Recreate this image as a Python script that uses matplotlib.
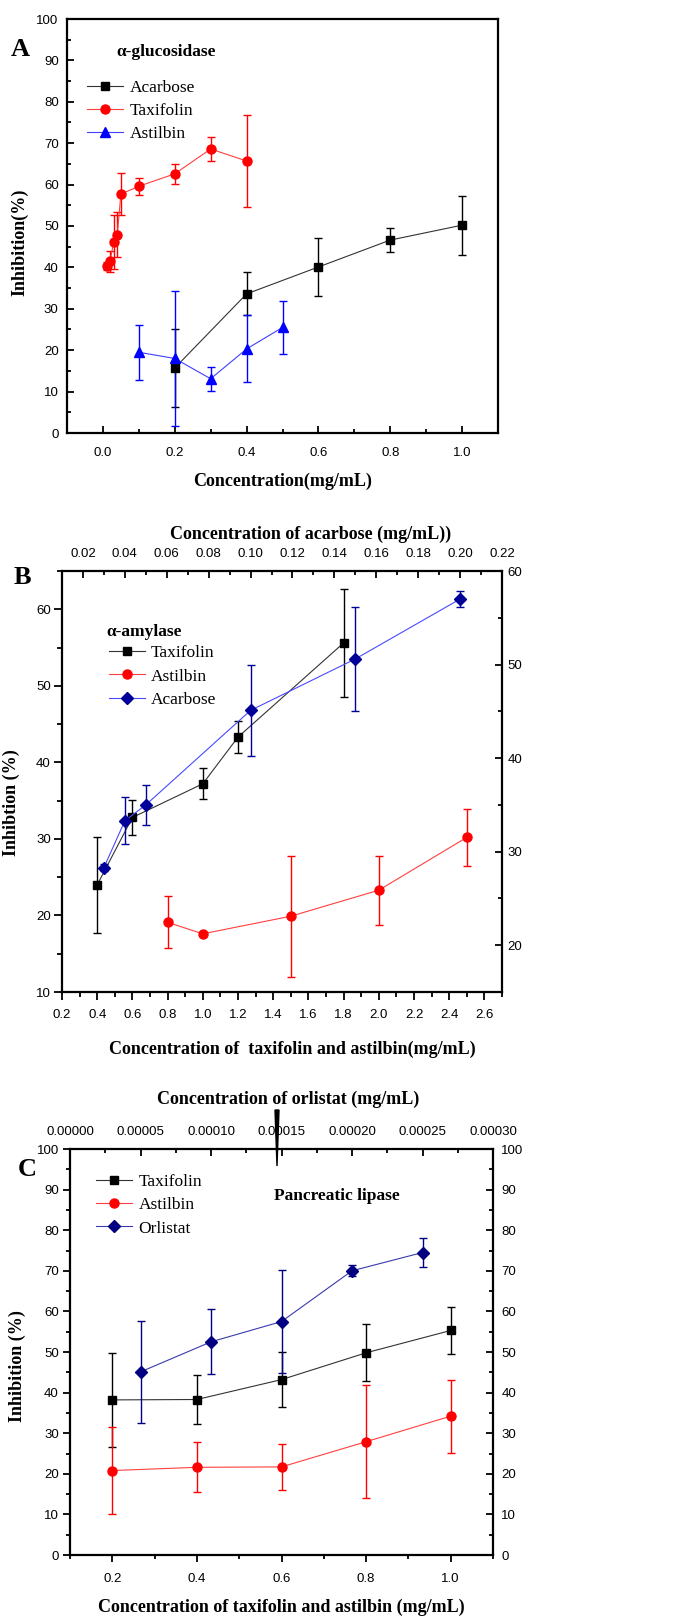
import numpy as np
import matplotlib
matplotlib.use('Agg')
import matplotlib.pyplot as plt
from matplotlib.ticker import MultipleLocator, FormatStrFormatter
from matplotlib.patches import Polygon

plt.rcParams['font.family'] = ['Liberation Sans Narrow', 'Liberation Sans', 'DejaVu Sans']
SERIF = ['Liberation Serif', 'DejaVu Serif']

#%% data
# A: alpha-glucosidase
a_acarbose_x = [0.2, 0.4, 0.6, 0.8, 1.0]
a_acarbose_y = [15.7, 33.6, 40.1, 46.6, 50.2]
a_acarbose_err = [9.3, 5.2, 6.9, 2.9, 7.1]
a_taxifolin_x = [0.01, 0.02, 0.03, 0.04, 0.05, 0.1, 0.2, 0.3, 0.4]
a_taxifolin_y = [40.3, 41.5, 46.2, 47.9, 57.7, 59.6, 62.6, 68.6, 65.7]
a_taxifolin_err = [1.0, 2.5, 6.5, 5.5, 5.0, 2.0, 2.4, 3.0, 11.2]
a_astilbin_x = [0.1, 0.2, 0.3, 0.4, 0.5]
a_astilbin_y = [19.5, 18.0, 13.1, 20.3, 25.5]
a_astilbin_err = [6.7, 16.2, 2.9, 8.1, 6.5]

# B: alpha-amylase
b_taxifolin_x = [0.4, 0.6, 1.0, 1.2, 1.8]
b_taxifolin_y = [24.0, 32.8, 37.2, 43.3, 55.6]
b_taxifolin_err = [6.3, 2.3, 2.0, 2.05, 7.0]
b_astilbin_x = [0.8, 1.0, 1.5, 2.0, 2.5]
b_astilbin_y = [19.1, 17.6, 19.9, 23.3, 30.2]
b_astilbin_err = [3.4, 0.3, 7.9, 4.5, 3.7]
b_acarbose_x = [0.03, 0.04, 0.05, 0.10, 0.15, 0.20]   # top axis
b_acarbose_y = [28.3, 33.3, 35.0, 45.1, 50.6, 57.0]   # right axis
b_acarbose_err = [0.4, 2.5, 2.1, 4.9, 5.6, 0.9]

# C: pancreatic lipase
c_x = [0.2, 0.4, 0.6, 0.8, 1.0]
c_taxifolin_y = [38.2, 38.3, 43.2, 49.8, 55.3]
c_taxifolin_err = [11.5, 6.1, 6.7, 7.0, 5.8]
c_astilbin_y = [20.8, 21.6, 21.7, 27.9, 34.2]
c_astilbin_err = [10.8, 6.2, 5.6, 13.9, 9.0]
c_orlistat_x = [0.00005, 0.0001, 0.00015, 0.0002, 0.00025]
c_orlistat_y = [45.1, 52.5, 57.5, 70.0, 74.5]
c_orlistat_err = [12.5, 8.0, 12.7, 1.4, 3.6]

W, H = 674, 1617
fig = plt.figure(figsize=(W/100, H/100), dpi=100)

def box(l, t, r, b):
    return [l/W, 1-b/H, (r-l)/W, (b-t)/H]

def serie(ax, x, y, err, mcol, lcol, marker, ms, label):
    ax.errorbar(x, y, yerr=err, fmt='none', ecolor=mcol, elinewidth=1.0,
                capsize=3.2, capthick=1.0, zorder=2)
    h, = ax.plot(x, y, color=lcol, lw=0.8, marker=marker, ms=ms,
                 mfc=mcol, mec=mcol, label=label, zorder=3)
    return h

def spines(ax):
    for s in ax.spines.values():
        s.set_linewidth(1.6)

TICK = dict(labelsize=9.5, width=1.3)

#%% A
ax = fig.add_axes(box(67, 19, 498, 433))
spines(ax)
h1 = serie(ax, a_acarbose_x, a_acarbose_y, a_acarbose_err, 'black', '#333333', 's', 6, 'Acarbose')
h2 = serie(ax, a_taxifolin_x, a_taxifolin_y, a_taxifolin_err, 'red', '#ff4040', 'o', 6.5, 'Taxifolin')
h3 = serie(ax, a_astilbin_x, a_astilbin_y, a_astilbin_err, 'blue', '#4040ff', '^', 7, 'Astilbin')
ax.set_xlim(-0.1, 1.1)
ax.set_ylim(0, 100)
ax.xaxis.set_major_locator(MultipleLocator(0.2))
ax.xaxis.set_minor_locator(MultipleLocator(0.1))
ax.xaxis.set_major_formatter(FormatStrFormatter('%.1f'))
ax.yaxis.set_major_locator(MultipleLocator(10))
ax.yaxis.set_minor_locator(MultipleLocator(5))
ax.tick_params(which='both', direction='in', top=False, right=False, **TICK)
ax.tick_params(which='major', length=5)
ax.tick_params(which='minor', length=3)
ax.tick_params(axis='x', pad=10)
ax.tick_params(axis='y', pad=6)
ax.set_xlabel('Concentration(mg/mL)', family=SERIF, weight='bold', fontsize=13)
ax.xaxis.set_label_coords(0.5, -0.095)
ax.set_ylabel('Inhibition(%)', family=SERIF, weight='bold', fontsize=13)
ax.yaxis.set_label_coords(-0.09, 0.46)
ax.text(0.115, 0.92, 'α-glucosidase', transform=ax.transAxes, family=SERIF,
        weight='bold', fontsize=12.5, va='center')
ax.legend(handles=[h1, h2, h3], loc='upper left', bbox_to_anchor=(0.03, 0.87),
          frameon=False, prop={'family': SERIF, 'size': 12.5},
          handlelength=2.1, handletextpad=0.35, labelspacing=0.4, borderaxespad=0)
fig.text(20/W, 1-50/H, 'A', family=SERIF, weight='bold', fontsize=19, ha='center', va='center')

#%% B
pos = box(62, 571, 502, 992)
ax = fig.add_axes(pos)
spines(ax)
h1 = serie(ax, b_taxifolin_x, b_taxifolin_y, b_taxifolin_err, 'black', '#333333', 's', 6, 'Taxifolin')
h2 = serie(ax, b_astilbin_x, b_astilbin_y, b_astilbin_err, 'red', '#ff4040', 'o', 6.5, 'Astilbin')
ax.set_xlim(0.2, 2.7)
ax.set_ylim(10, 65)
ax.xaxis.set_major_locator(MultipleLocator(0.2))
ax.xaxis.set_minor_locator(MultipleLocator(0.1))
ax.xaxis.set_major_formatter(FormatStrFormatter('%.1f'))
ax.yaxis.set_major_locator(MultipleLocator(10))
ax.yaxis.set_minor_locator(MultipleLocator(5))
ax.tick_params(which='both', direction='out', top=False, right=False, **TICK)
ax.tick_params(which='major', length=6)
ax.tick_params(which='minor', length=3.5)
ax.tick_params(axis='x', pad=6)
ax.tick_params(axis='y', pad=2)
ax.set_xlabel('Concentration of  taxifolin and astilbin(mg/mL)', family=SERIF, weight='bold', fontsize=13)
ax.xaxis.set_label_coords(0.523, -0.115)
ax.set_ylabel('Inhibtion (%)', family=SERIF, weight='bold', fontsize=13)
ax.yaxis.set_label_coords(-0.095, 0.45)
ax.text(0.1, 0.855, 'α-amylase', transform=ax.transAxes, family=SERIF,
        weight='bold', fontsize=12.5, va='center')

ax2 = fig.add_axes(pos, facecolor='none')
ax2.patch.set_visible(False)
for s in ax2.spines.values():
    s.set_visible(False)
h3 = serie(ax2, b_acarbose_x, b_acarbose_y, b_acarbose_err, '#000099', '#4a4aff', 'D', 6.5, 'Acarbose')
ax2.set_xlim(0.01, 0.22)
ax2.set_ylim(15, 60)
ax2.xaxis.tick_top()
ax2.yaxis.tick_right()
ax2.xaxis.set_label_position('top')
ax2.xaxis.set_major_locator(MultipleLocator(0.02))
ax2.xaxis.set_minor_locator(MultipleLocator(0.01))
ax2.xaxis.set_major_formatter(FormatStrFormatter('%.2f'))
ax2.yaxis.set_major_locator(MultipleLocator(10))
ax2.yaxis.set_minor_locator(MultipleLocator(5))
ax2.tick_params(which='both', direction='in', **TICK)
ax2.tick_params(which='major', length=5)
ax2.tick_params(which='minor', length=3)
ax2.tick_params(axis='x', pad=8)
ax2.tick_params(axis='y', pad=4)
ax2.set_xlabel('Concentration of acarbose (mg/mL))', family=SERIF, weight='bold', fontsize=13)
ax2.xaxis.set_label_coords(0.565, 1.075)
ax2.legend(handles=[h1, h2, h3], loc='upper left', bbox_to_anchor=(0.09, 0.84),
           frameon=False, prop={'family': SERIF, 'size': 12.5},
           handlelength=2.1, handletextpad=0.35, labelspacing=0.4, borderaxespad=0)
fig.text(22/W, 1-578/H, 'B', family=SERIF, weight='bold', fontsize=19, ha='center', va='center')

#%% C
pos = box(70, 1149, 493, 1555)
ax = fig.add_axes(pos)
spines(ax)
h1 = serie(ax, c_x, c_taxifolin_y, c_taxifolin_err, 'black', '#333333', 's', 6, 'Taxifolin')
h2 = serie(ax, c_x, c_astilbin_y, c_astilbin_err, 'red', '#ff4040', 'o', 6.5, 'Astilbin')
ax.set_xlim(0.1, 1.1)
ax.set_ylim(0, 100)
ax.xaxis.set_major_locator(MultipleLocator(0.2))
ax.xaxis.set_minor_locator(MultipleLocator(0.1))
ax.xaxis.set_major_formatter(FormatStrFormatter('%.1f'))
ax.yaxis.set_major_locator(MultipleLocator(10))
ax.yaxis.set_minor_locator(MultipleLocator(5))
ax.tick_params(which='both', direction='out', top=False, right=False, **TICK)
ax.tick_params(which='major', length=5)
ax.tick_params(which='minor', length=3)
ax.tick_params(axis='x', pad=8)
ax.tick_params(axis='y', pad=3)
ax.set_xlabel('Concentration of taxifolin and astilbin (mg/mL)', family=SERIF, weight='bold', fontsize=13)
ax.xaxis.set_label_coords(0.5, -0.108)
ax.set_ylabel('Inhibition (%)', family=SERIF, weight='bold', fontsize=13)
ax.yaxis.set_label_coords(-0.105, 0.465)
ax.text(0.63, 0.885, 'Pancreatic lipase', transform=ax.transAxes, family=SERIF,
        weight='bold', fontsize=12.5, va='center', ha='center')

ax2 = fig.add_axes(pos, facecolor='none')
ax2.patch.set_visible(False)
for s in ax2.spines.values():
    s.set_visible(False)
h3 = serie(ax2, c_orlistat_x, c_orlistat_y, c_orlistat_err, '#000080', '#3a3ab0', 'D', 6.5, 'Orlistat')
ax2.set_xlim(0, 0.0003)
ax2.set_ylim(0, 100)
ax2.xaxis.tick_top()
ax2.yaxis.tick_right()
ax2.xaxis.set_label_position('top')
ax2.xaxis.set_major_locator(MultipleLocator(0.00005))
ax2.xaxis.set_minor_locator(MultipleLocator(0.000025))
ax2.xaxis.set_major_formatter(FormatStrFormatter('%.5f'))
ax2.yaxis.set_major_locator(MultipleLocator(10))
ax2.yaxis.set_minor_locator(MultipleLocator(5))
ax2.tick_params(which='both', direction='in', **TICK)
ax2.tick_params(which='major', length=5)
ax2.tick_params(which='minor', length=3)
ax2.tick_params(axis='x', pad=8)
ax2.tick_params(axis='y', pad=6)
ax2.set_xlabel('Concentration of orlistat (mg/mL)', family=SERIF, weight='bold', fontsize=13)
ax2.xaxis.set_label_coords(0.515, 1.11)
ax2.legend(handles=[h1, h2, h3], loc='upper left', bbox_to_anchor=(0.045, 0.955),
           frameon=False, prop={'family': SERIF, 'size': 12.5},
           handlelength=2.1, handletextpad=0.35, labelspacing=0.4, borderaxespad=0)
fig.text(27/W, 1-1170/H, 'C', family=SERIF, weight='bold', fontsize=19, ha='center', va='center')

# black wedge mark above panel C (scanning artefact in the original)
fig.add_artist(Polygon([[275/W, 1-1110/H], [279/W, 1-1110/H], [277/W, 1-1166/H]],
                       closed=True, color='black', transform=fig.transFigure))

fig.savefig('out.png', dpi=100)
